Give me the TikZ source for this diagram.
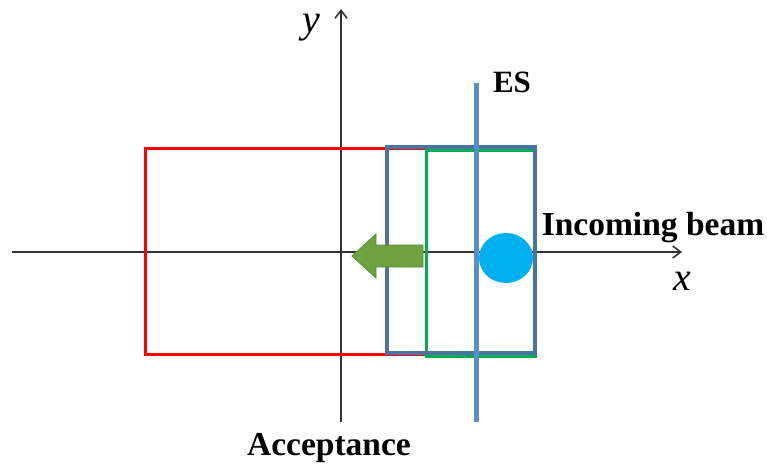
\documentclass[tikz,border=0pt]{standalone}
\usepackage{fontspec}
\setmainfont{Liberation Serif}
\usetikzlibrary{arrows.meta}
\definecolor{redline}{HTML}{FF0000}
\definecolor{blueline}{HTML}{4A74A6}
\definecolor{esblue}{HTML}{5B8DC9}
\definecolor{greenline}{HTML}{00B050}
\definecolor{arrowgreen}{HTML}{6EA33F}
\definecolor{arrowedge}{HTML}{5A8A35}
\definecolor{beam}{HTML}{00B0F0}
\tikzset{
  axis/.style={draw=black!80, line width=1.6pt, -{Straight Barb[length=8pt,width=12pt,line width=1.6pt]}},
  lbl/.style={font=\fontsize{33.5}{33.5}\selectfont\bfseries, inner sep=0pt},
  eslbl/.style={font=\fontsize{31}{31}\selectfont\bfseries, inner sep=0pt},
  axlbl/.style={font=\fontsize{40}{40}\selectfont\itshape, inner sep=0pt, anchor=base},
}
\begin{document}
\begin{tikzpicture}[x=1pt,y=-1pt]
\useasboundingbox (0,0) rectangle (767,466);
% axes
\coordinate (xs) at (12,252);
\coordinate (xe) at (682,252);
\coordinate (ys) at (341,422);
\coordinate (ye) at (341,9);
\draw[axis] (xs) -- (xe);
\draw[axis] (ys) -- (ye);
% red acceptance rectangle (right side hidden under the green edge)
\draw[redline, line width=3pt] (426,148) -- (145,148) -- (145,354) -- (426,354);
% green rectangle
\draw[greenline, line width=3pt] (426,150) rectangle (535,356);
% blue rectangle
\draw[blueline, line width=3.6pt] (387,147) rectangle (535,353);
% ES line
\coordinate (es1) at (476,83);
\coordinate (es2) at (476,422);
\draw[esblue, line width=5pt] (es1) -- (es2);
% green arrow
\draw[arrowedge, fill=arrowgreen, line width=0.8pt, line join=miter]
  (423,245) -- (376,245) -- (376,234) -- (352,256) -- (376,278) -- (376,267) -- (423,267) -- cycle;
% beam spot
\fill[beam] (506,258) ellipse [x radius=27, y radius=25];
% labels
\node[eslbl] (es) at (512,82) {ES};
\node[lbl] (beamlbl) at (653,228) {Incoming beam};
\node[lbl] (acc) at (329,448) {Acceptance};
\node[axlbl] (ylbl) at (311,32) {$\mathit{y}$};
\node[axlbl] (xlbl) at (682,290) {$\mathit{x}$};
\end{tikzpicture}
\end{document}
